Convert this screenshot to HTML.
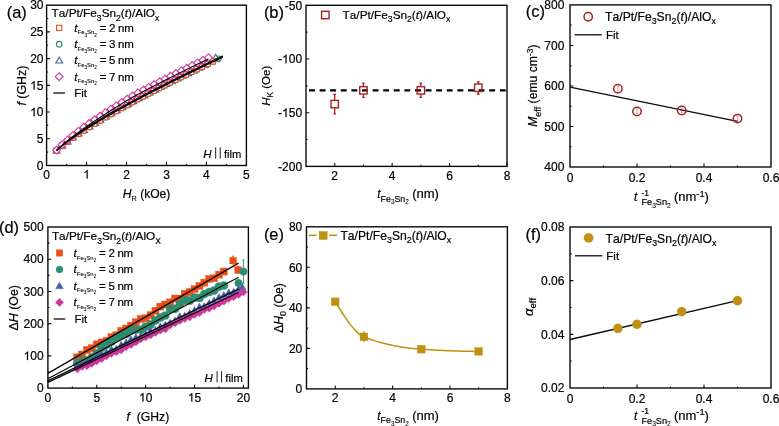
<!DOCTYPE html>
<html><head><meta charset="utf-8"><style>
html,body{margin:0;padding:0;background:#fff;}
svg{display:block;font-family:"Liberation Sans", sans-serif;font-kerning:none;will-change:transform;}
text{stroke-width:0.2px;}
</style></head><body>
<svg width="779" height="426" viewBox="0 0 779 426">
<rect width="779" height="426" fill="#fff"/>
<path d="M86.56 165.5v-3.4M126.52 165.5v-3.4M166.48 165.5v-3.4M206.44 165.5v-3.4M66.58 165.5v-1.6M106.54 165.5v-1.6M146.5 165.5v-1.6M186.46 165.5v-1.6M226.42 165.5v-1.6M46.6 138.78h3.4M46.6 112.07h3.4M46.6 85.35h3.4M46.6 58.63h3.4M46.6 31.92h3.4M46.6 152.14h1.6M46.6 125.42h1.6M46.6 98.71h1.6M46.6 71.99h1.6M46.6 45.27h1.6M46.6 18.56h1.6" stroke="#0a0a0a" stroke-width="1.1" fill="none"/>
<rect x="46.6" y="5.2" width="199.8" height="160.3" fill="none" stroke="#0a0a0a" stroke-width="1.4"/>
<text x="46.6" y="178.6" font-size="12" text-anchor="middle" fill="#000" stroke="#000">0</text>
<text x="86.56" y="178.6" font-size="12" text-anchor="middle" fill="#000" stroke="#000"> </text>
<path transform="translate(83.22 178.6) scale(0.005859 -0.005859)" d="M763 0L583 0L583 1147Q518 1085 412 1023Q306 961 222 930L222 1104Q373 1175 486 1276Q599 1377 646 1472L763 1472Z" fill="#000" stroke="#000" stroke-width="34.13"/>
<text x="126.52" y="178.6" font-size="12" text-anchor="middle" fill="#000" stroke="#000">2</text>
<text x="166.48" y="178.6" font-size="12" text-anchor="middle" fill="#000" stroke="#000">3</text>
<text x="206.44" y="178.6" font-size="12" text-anchor="middle" fill="#000" stroke="#000">4</text>
<text x="246.4" y="178.6" font-size="12" text-anchor="middle" fill="#000" stroke="#000">5</text>
<text x="43.5" y="169.7" font-size="12" text-anchor="end" fill="#000" stroke="#000">0</text>
<text x="43.5" y="142.98" font-size="12" text-anchor="end" fill="#000" stroke="#000">5</text>
<text x="43.5" y="116.27" font-size="12" text-anchor="end" fill="#000" stroke="#000"> 0</text>
<path transform="translate(30.16 116.27) scale(0.005859 -0.005859)" d="M763 0L583 0L583 1147Q518 1085 412 1023Q306 961 222 930L222 1104Q373 1175 486 1276Q599 1377 646 1472L763 1472Z" fill="#000" stroke="#000" stroke-width="34.13"/>
<text x="43.5" y="89.55" font-size="12" text-anchor="end" fill="#000" stroke="#000"> 5</text>
<path transform="translate(30.16 89.55) scale(0.005859 -0.005859)" d="M763 0L583 0L583 1147Q518 1085 412 1023Q306 961 222 930L222 1104Q373 1175 486 1276Q599 1377 646 1472L763 1472Z" fill="#000" stroke="#000" stroke-width="34.13"/>
<text x="43.5" y="62.83" font-size="12" text-anchor="end" fill="#000" stroke="#000">20</text>
<text x="43.5" y="36.12" font-size="12" text-anchor="end" fill="#000" stroke="#000">25</text>
<text x="43.5" y="9.4" font-size="12" text-anchor="end" fill="#000" stroke="#000">30</text>
<text x="6.7" y="17.6" font-size="16.4" text-anchor="start" fill="#000" stroke="#000">(a)</text>
<text x="122.8" y="197.8" font-size="12.1" text-anchor="start" fill="#000" stroke="#000"><tspan font-style="italic">H</tspan><tspan dy="3.15" font-size="7.26" stroke-width="0.1">R</tspan><tspan dy="-3.15"> (kOe)</tspan></text>
<text x="25.9" y="85.6" font-size="12.4" text-anchor="middle" fill="#000" stroke="#000" transform="rotate(-90 25.9 85.6)"><tspan font-style="italic">f</tspan><tspan> (GHz)</tspan></text>
<text x="51.6" y="17.4" font-size="11.8" text-anchor="start" fill="#000" stroke="#000"><tspan>Ta/Pt/Fe</tspan><tspan dy="3.19" font-size="8.61" stroke-width="0.17">3</tspan><tspan dy="-3.19">Sn</tspan><tspan dy="3.19" font-size="8.61" stroke-width="0.17">2</tspan><tspan dy="-3.19">(</tspan><tspan font-style="italic">t</tspan><tspan>)/AlO</tspan><tspan dy="3.19" font-size="8.61" stroke-width="0.17">x</tspan></text>
<rect x="56.6" y="25.3" width="5.2" height="5.2" fill="none" stroke="#ec4e16" stroke-width="1.1"/>
<text x="74.3" y="31.8" font-size="11.5" text-anchor="start" fill="#000" stroke="#000"><tspan font-style="italic">t</tspan><tspan dy="2.65" font-size="5.98" stroke-width="0.08">Fe</tspan><tspan dy="2.07" font-size="4.6" stroke-width="0.08">3</tspan><tspan dy="-2.07" font-size="5.98" stroke-width="0.08">Sn</tspan><tspan dy="2.07" font-size="4.6" stroke-width="0.08">2</tspan><tspan dy="-4.71" letter-spacing="-0.3"> = 2 nm</tspan></text>
<circle cx="59.2" cy="44.2" r="2.8" fill="none" stroke="#2f8d6f" stroke-width="1.1"/>
<text x="74.3" y="48.1" font-size="11.5" text-anchor="start" fill="#000" stroke="#000"><tspan font-style="italic">t</tspan><tspan dy="2.65" font-size="5.98" stroke-width="0.08">Fe</tspan><tspan dy="2.07" font-size="4.6" stroke-width="0.08">3</tspan><tspan dy="-2.07" font-size="5.98" stroke-width="0.08">Sn</tspan><tspan dy="2.07" font-size="4.6" stroke-width="0.08">2</tspan><tspan dy="-4.71" letter-spacing="-0.3"> = 3 nm</tspan></text>
<path d="M59.2 57.14L62.61 63.03L55.79 63.03Z" fill="none" stroke="#4460aa" stroke-width="1.1"/>
<text x="74.3" y="64.3" font-size="11.5" text-anchor="start" fill="#000" stroke="#000"><tspan font-style="italic">t</tspan><tspan dy="2.65" font-size="5.98" stroke-width="0.08">Fe</tspan><tspan dy="2.07" font-size="4.6" stroke-width="0.08">3</tspan><tspan dy="-2.07" font-size="5.98" stroke-width="0.08">Sn</tspan><tspan dy="2.07" font-size="4.6" stroke-width="0.08">2</tspan><tspan dy="-4.71" letter-spacing="-0.3"> = 5 nm</tspan></text>
<path d="M59.2 72.8L63.1 76.7L59.2 80.6L55.3 76.7Z" fill="none" stroke="#d1339d" stroke-width="1.1"/>
<text x="74.3" y="80.6" font-size="11.5" text-anchor="start" fill="#000" stroke="#000"><tspan font-style="italic">t</tspan><tspan dy="2.65" font-size="5.98" stroke-width="0.08">Fe</tspan><tspan dy="2.07" font-size="4.6" stroke-width="0.08">3</tspan><tspan dy="-2.07" font-size="5.98" stroke-width="0.08">Sn</tspan><tspan dy="2.07" font-size="4.6" stroke-width="0.08">2</tspan><tspan dy="-4.71" letter-spacing="-0.3"> = 7 nm</tspan></text>
<path d="M53.4 93 L65 93" stroke="#0a0a0a" stroke-width="1.3" fill="none"/>
<text x="74.2" y="97.1" font-size="11.5" text-anchor="start" fill="#000" stroke="#000">Fit</text>
<text x="203.2" y="158" font-size="11.5" text-anchor="start" fill="#000" stroke="#000" font-style="italic">H</text>
<path d="M215.7 147.4v11.2M220.2 147.4v11.2" stroke="#000" stroke-width="0.9"/>
<text x="223.9" y="158" font-size="11.2" text-anchor="start" fill="#000" stroke="#000">film</text>
<circle cx="56.59" cy="150.52" r="2.8" fill="#fff" stroke="#2f8d6f" stroke-width="1.1"/>
<circle cx="61.98" cy="145.8" r="2.8" fill="#fff" stroke="#2f8d6f" stroke-width="1.1"/>
<circle cx="67.38" cy="141.57" r="2.8" fill="#fff" stroke="#2f8d6f" stroke-width="1.1"/>
<circle cx="72.77" cy="137.64" r="2.8" fill="#fff" stroke="#2f8d6f" stroke-width="1.1"/>
<circle cx="78.17" cy="133.94" r="2.8" fill="#fff" stroke="#2f8d6f" stroke-width="1.1"/>
<circle cx="83.56" cy="130.39" r="2.8" fill="#fff" stroke="#2f8d6f" stroke-width="1.1"/>
<circle cx="88.96" cy="126.96" r="2.8" fill="#fff" stroke="#2f8d6f" stroke-width="1.1"/>
<circle cx="94.35" cy="123.62" r="2.8" fill="#fff" stroke="#2f8d6f" stroke-width="1.1"/>
<circle cx="99.75" cy="120.37" r="2.8" fill="#fff" stroke="#2f8d6f" stroke-width="1.1"/>
<circle cx="105.14" cy="117.19" r="2.8" fill="#fff" stroke="#2f8d6f" stroke-width="1.1"/>
<circle cx="110.54" cy="114.08" r="2.8" fill="#fff" stroke="#2f8d6f" stroke-width="1.1"/>
<circle cx="115.93" cy="111.02" r="2.8" fill="#fff" stroke="#2f8d6f" stroke-width="1.1"/>
<circle cx="121.33" cy="108.01" r="2.8" fill="#fff" stroke="#2f8d6f" stroke-width="1.1"/>
<circle cx="126.72" cy="105.05" r="2.8" fill="#fff" stroke="#2f8d6f" stroke-width="1.1"/>
<circle cx="132.11" cy="102.12" r="2.8" fill="#fff" stroke="#2f8d6f" stroke-width="1.1"/>
<circle cx="137.51" cy="99.23" r="2.8" fill="#fff" stroke="#2f8d6f" stroke-width="1.1"/>
<circle cx="142.9" cy="96.38" r="2.8" fill="#fff" stroke="#2f8d6f" stroke-width="1.1"/>
<circle cx="148.3" cy="93.55" r="2.8" fill="#fff" stroke="#2f8d6f" stroke-width="1.1"/>
<circle cx="153.69" cy="90.76" r="2.8" fill="#fff" stroke="#2f8d6f" stroke-width="1.1"/>
<circle cx="159.09" cy="87.99" r="2.8" fill="#fff" stroke="#2f8d6f" stroke-width="1.1"/>
<circle cx="164.48" cy="85.24" r="2.8" fill="#fff" stroke="#2f8d6f" stroke-width="1.1"/>
<circle cx="169.88" cy="82.51" r="2.8" fill="#fff" stroke="#2f8d6f" stroke-width="1.1"/>
<circle cx="175.27" cy="79.81" r="2.8" fill="#fff" stroke="#2f8d6f" stroke-width="1.1"/>
<circle cx="180.67" cy="77.13" r="2.8" fill="#fff" stroke="#2f8d6f" stroke-width="1.1"/>
<circle cx="186.06" cy="74.46" r="2.8" fill="#fff" stroke="#2f8d6f" stroke-width="1.1"/>
<circle cx="191.45" cy="71.81" r="2.8" fill="#fff" stroke="#2f8d6f" stroke-width="1.1"/>
<circle cx="196.85" cy="69.18" r="2.8" fill="#fff" stroke="#2f8d6f" stroke-width="1.1"/>
<circle cx="202.24" cy="66.56" r="2.8" fill="#fff" stroke="#2f8d6f" stroke-width="1.1"/>
<circle cx="207.64" cy="63.96" r="2.8" fill="#fff" stroke="#2f8d6f" stroke-width="1.1"/>
<circle cx="213.03" cy="61.37" r="2.8" fill="#fff" stroke="#2f8d6f" stroke-width="1.1"/>
<circle cx="218.43" cy="58.8" r="2.8" fill="#fff" stroke="#2f8d6f" stroke-width="1.1"/>
<path d="M56.59 147.16L60 153.05L53.18 153.05Z" fill="#fff" stroke="#4460aa" stroke-width="1.1"/>
<path d="M62.07 142.3L65.48 148.19L58.66 148.19Z" fill="#fff" stroke="#4460aa" stroke-width="1.1"/>
<path d="M67.56 137.95L70.97 143.84L64.15 143.84Z" fill="#fff" stroke="#4460aa" stroke-width="1.1"/>
<path d="M73.04 133.92L76.45 139.81L69.63 139.81Z" fill="#fff" stroke="#4460aa" stroke-width="1.1"/>
<path d="M78.53 130.1L81.94 135.99L75.12 135.99Z" fill="#fff" stroke="#4460aa" stroke-width="1.1"/>
<path d="M84.01 126.45L87.42 132.34L80.6 132.34Z" fill="#fff" stroke="#4460aa" stroke-width="1.1"/>
<path d="M89.49 122.94L92.9 128.83L86.08 128.83Z" fill="#fff" stroke="#4460aa" stroke-width="1.1"/>
<path d="M94.98 119.56L98.39 125.45L91.57 125.45Z" fill="#fff" stroke="#4460aa" stroke-width="1.1"/>
<path d="M100.46 116.26L103.87 122.15L97.05 122.15Z" fill="#fff" stroke="#4460aa" stroke-width="1.1"/>
<path d="M105.95 113.04L109.36 118.93L102.54 118.93Z" fill="#fff" stroke="#4460aa" stroke-width="1.1"/>
<path d="M111.43 109.88L114.84 115.77L108.02 115.77Z" fill="#fff" stroke="#4460aa" stroke-width="1.1"/>
<path d="M116.92 106.78L120.33 112.67L113.51 112.67Z" fill="#fff" stroke="#4460aa" stroke-width="1.1"/>
<path d="M122.4 103.73L125.81 109.62L118.99 109.62Z" fill="#fff" stroke="#4460aa" stroke-width="1.1"/>
<path d="M127.88 100.73L131.29 106.62L124.47 106.62Z" fill="#fff" stroke="#4460aa" stroke-width="1.1"/>
<path d="M133.37 97.77L136.78 103.66L129.96 103.66Z" fill="#fff" stroke="#4460aa" stroke-width="1.1"/>
<path d="M138.85 94.84L142.26 100.73L135.44 100.73Z" fill="#fff" stroke="#4460aa" stroke-width="1.1"/>
<path d="M144.34 91.94L147.75 97.83L140.93 97.83Z" fill="#fff" stroke="#4460aa" stroke-width="1.1"/>
<path d="M149.82 89.08L153.23 94.97L146.41 94.97Z" fill="#fff" stroke="#4460aa" stroke-width="1.1"/>
<path d="M155.3 86.24L158.71 92.13L151.89 92.13Z" fill="#fff" stroke="#4460aa" stroke-width="1.1"/>
<path d="M160.79 83.43L164.2 89.32L157.38 89.32Z" fill="#fff" stroke="#4460aa" stroke-width="1.1"/>
<path d="M166.27 80.65L169.68 86.54L162.86 86.54Z" fill="#fff" stroke="#4460aa" stroke-width="1.1"/>
<path d="M171.76 77.89L175.17 83.78L168.35 83.78Z" fill="#fff" stroke="#4460aa" stroke-width="1.1"/>
<path d="M177.24 75.15L180.65 81.04L173.83 81.04Z" fill="#fff" stroke="#4460aa" stroke-width="1.1"/>
<path d="M182.73 72.42L186.14 78.31L179.32 78.31Z" fill="#fff" stroke="#4460aa" stroke-width="1.1"/>
<path d="M188.21 69.72L191.62 75.61L184.8 75.61Z" fill="#fff" stroke="#4460aa" stroke-width="1.1"/>
<path d="M193.69 67.04L197.1 72.93L190.28 72.93Z" fill="#fff" stroke="#4460aa" stroke-width="1.1"/>
<path d="M199.18 64.37L202.59 70.26L195.77 70.26Z" fill="#fff" stroke="#4460aa" stroke-width="1.1"/>
<path d="M204.66 61.35L208.07 67.24L201.25 67.24Z" fill="#fff" stroke="#4460aa" stroke-width="1.1"/>
<path d="M210.15 57.83L213.56 63.72L206.74 63.72Z" fill="#fff" stroke="#4460aa" stroke-width="1.1"/>
<path d="M215.63 54.31L219.04 60.2L212.22 60.2Z" fill="#fff" stroke="#4460aa" stroke-width="1.1"/>
<rect x="53.99" y="147.91" width="5.2" height="5.2" fill="#fff" stroke="#ec4e16" stroke-width="1.1"/>
<rect x="59.38" y="143.18" width="5.2" height="5.2" fill="#fff" stroke="#ec4e16" stroke-width="1.1"/>
<rect x="64.77" y="138.95" width="5.2" height="5.2" fill="#fff" stroke="#ec4e16" stroke-width="1.1"/>
<rect x="70.15" y="135.02" width="5.2" height="5.2" fill="#fff" stroke="#ec4e16" stroke-width="1.1"/>
<rect x="75.54" y="131.31" width="5.2" height="5.2" fill="#fff" stroke="#ec4e16" stroke-width="1.1"/>
<rect x="80.93" y="127.77" width="5.2" height="5.2" fill="#fff" stroke="#ec4e16" stroke-width="1.1"/>
<rect x="86.32" y="124.34" width="5.2" height="5.2" fill="#fff" stroke="#ec4e16" stroke-width="1.1"/>
<rect x="91.7" y="121" width="5.2" height="5.2" fill="#fff" stroke="#ec4e16" stroke-width="1.1"/>
<rect x="97.09" y="117.75" width="5.2" height="5.2" fill="#fff" stroke="#ec4e16" stroke-width="1.1"/>
<rect x="102.48" y="114.58" width="5.2" height="5.2" fill="#fff" stroke="#ec4e16" stroke-width="1.1"/>
<rect x="107.87" y="111.46" width="5.2" height="5.2" fill="#fff" stroke="#ec4e16" stroke-width="1.1"/>
<rect x="113.25" y="108.41" width="5.2" height="5.2" fill="#fff" stroke="#ec4e16" stroke-width="1.1"/>
<rect x="118.64" y="105.4" width="5.2" height="5.2" fill="#fff" stroke="#ec4e16" stroke-width="1.1"/>
<rect x="124.03" y="102.44" width="5.2" height="5.2" fill="#fff" stroke="#ec4e16" stroke-width="1.1"/>
<rect x="129.42" y="99.52" width="5.2" height="5.2" fill="#fff" stroke="#ec4e16" stroke-width="1.1"/>
<rect x="134.81" y="96.64" width="5.2" height="5.2" fill="#fff" stroke="#ec4e16" stroke-width="1.1"/>
<rect x="140.19" y="93.78" width="5.2" height="5.2" fill="#fff" stroke="#ec4e16" stroke-width="1.1"/>
<rect x="145.58" y="90.96" width="5.2" height="5.2" fill="#fff" stroke="#ec4e16" stroke-width="1.1"/>
<rect x="150.97" y="88.17" width="5.2" height="5.2" fill="#fff" stroke="#ec4e16" stroke-width="1.1"/>
<rect x="156.36" y="85.4" width="5.2" height="5.2" fill="#fff" stroke="#ec4e16" stroke-width="1.1"/>
<rect x="161.74" y="82.66" width="5.2" height="5.2" fill="#fff" stroke="#ec4e16" stroke-width="1.1"/>
<rect x="167.13" y="79.93" width="5.2" height="5.2" fill="#fff" stroke="#ec4e16" stroke-width="1.1"/>
<rect x="172.52" y="77.23" width="5.2" height="5.2" fill="#fff" stroke="#ec4e16" stroke-width="1.1"/>
<rect x="177.91" y="74.55" width="5.2" height="5.2" fill="#fff" stroke="#ec4e16" stroke-width="1.1"/>
<rect x="183.3" y="71.89" width="5.2" height="5.2" fill="#fff" stroke="#ec4e16" stroke-width="1.1"/>
<rect x="188.68" y="69.24" width="5.2" height="5.2" fill="#fff" stroke="#ec4e16" stroke-width="1.1"/>
<rect x="194.07" y="66.61" width="5.2" height="5.2" fill="#fff" stroke="#ec4e16" stroke-width="1.1"/>
<rect x="199.46" y="64" width="5.2" height="5.2" fill="#fff" stroke="#ec4e16" stroke-width="1.1"/>
<rect x="204.85" y="61.4" width="5.2" height="5.2" fill="#fff" stroke="#ec4e16" stroke-width="1.1"/>
<rect x="210.23" y="58.82" width="5.2" height="5.2" fill="#fff" stroke="#ec4e16" stroke-width="1.1"/>
<path d="M56.59 146.24L60.49 150.14L56.59 154.04L52.69 150.14Z" fill="#fff" stroke="#d1339d" stroke-width="1.1"/>
<path d="M62.01 140.96L65.91 144.86L62.01 148.76L58.11 144.86Z" fill="#fff" stroke="#d1339d" stroke-width="1.1"/>
<path d="M67.44 136.18L71.34 140.08L67.44 143.98L63.54 140.08Z" fill="#fff" stroke="#d1339d" stroke-width="1.1"/>
<path d="M72.86 131.71L76.76 135.61L72.86 139.51L68.96 135.61Z" fill="#fff" stroke="#d1339d" stroke-width="1.1"/>
<path d="M78.28 127.46L82.18 131.36L78.28 135.26L74.38 131.36Z" fill="#fff" stroke="#d1339d" stroke-width="1.1"/>
<path d="M83.71 123.38L87.61 127.28L83.71 131.18L79.81 127.28Z" fill="#fff" stroke="#d1339d" stroke-width="1.1"/>
<path d="M89.13 119.51L93.03 123.41L89.13 127.31L85.23 123.41Z" fill="#fff" stroke="#d1339d" stroke-width="1.1"/>
<path d="M94.55 115.84L98.45 119.74L94.55 123.64L90.65 119.74Z" fill="#fff" stroke="#d1339d" stroke-width="1.1"/>
<path d="M99.98 112.25L103.88 116.15L99.98 120.05L96.08 116.15Z" fill="#fff" stroke="#d1339d" stroke-width="1.1"/>
<path d="M105.4 108.74L109.3 112.64L105.4 116.54L101.5 112.64Z" fill="#fff" stroke="#d1339d" stroke-width="1.1"/>
<path d="M110.82 105.3L114.72 109.2L110.82 113.1L106.92 109.2Z" fill="#fff" stroke="#d1339d" stroke-width="1.1"/>
<path d="M116.24 101.91L120.14 105.81L116.24 109.71L112.34 105.81Z" fill="#fff" stroke="#d1339d" stroke-width="1.1"/>
<path d="M121.67 98.57L125.57 102.47L121.67 106.37L117.77 102.47Z" fill="#fff" stroke="#d1339d" stroke-width="1.1"/>
<path d="M127.09 95.28L130.99 99.18L127.09 103.08L123.19 99.18Z" fill="#fff" stroke="#d1339d" stroke-width="1.1"/>
<path d="M132.51 92.02L136.41 95.92L132.51 99.82L128.61 95.92Z" fill="#fff" stroke="#d1339d" stroke-width="1.1"/>
<path d="M137.94 89.12L141.84 93.02L137.94 96.92L134.04 93.02Z" fill="#fff" stroke="#d1339d" stroke-width="1.1"/>
<path d="M143.36 86.25L147.26 90.15L143.36 94.05L139.46 90.15Z" fill="#fff" stroke="#d1339d" stroke-width="1.1"/>
<path d="M148.78 83.42L152.68 87.32L148.78 91.22L144.88 87.32Z" fill="#fff" stroke="#d1339d" stroke-width="1.1"/>
<path d="M154.21 80.61L158.11 84.51L154.21 88.41L150.31 84.51Z" fill="#fff" stroke="#d1339d" stroke-width="1.1"/>
<path d="M159.63 77.82L163.53 81.72L159.63 85.62L155.73 81.72Z" fill="#fff" stroke="#d1339d" stroke-width="1.1"/>
<path d="M165.05 75.07L168.95 78.97L165.05 82.87L161.15 78.97Z" fill="#fff" stroke="#d1339d" stroke-width="1.1"/>
<path d="M170.48 72.33L174.38 76.23L170.48 80.13L166.58 76.23Z" fill="#fff" stroke="#d1339d" stroke-width="1.1"/>
<path d="M175.9 69.61L179.8 73.51L175.9 77.41L172 73.51Z" fill="#fff" stroke="#d1339d" stroke-width="1.1"/>
<path d="M181.32 66.92L185.22 70.82L181.32 74.72L177.42 70.82Z" fill="#fff" stroke="#d1339d" stroke-width="1.1"/>
<path d="M186.75 64.24L190.65 68.14L186.75 72.04L182.85 68.14Z" fill="#fff" stroke="#d1339d" stroke-width="1.1"/>
<path d="M192.17 61.58L196.07 65.48L192.17 69.38L188.27 65.48Z" fill="#fff" stroke="#d1339d" stroke-width="1.1"/>
<path d="M197.59 58.94L201.49 62.84L197.59 66.74L193.69 62.84Z" fill="#fff" stroke="#d1339d" stroke-width="1.1"/>
<path d="M203.01 56.31L206.91 60.21L203.01 64.11L199.11 60.21Z" fill="#fff" stroke="#d1339d" stroke-width="1.1"/>
<path d="M208.44 53.69L212.34 57.59L208.44 61.49L204.54 57.59Z" fill="#fff" stroke="#d1339d" stroke-width="1.1"/>
<path d="M56.59 150.63 L59.36 148.15 L62.13 145.84 L64.9 143.66 L67.67 141.57 L70.44 139.56 L73.21 137.62 L75.98 135.73 L78.75 133.89 L81.53 132.09 L84.3 130.32 L87.07 128.59 L89.84 126.84 L92.61 125.12 L95.38 123.43 L98.15 121.75 L100.92 120.1 L103.69 118.47 L106.46 116.85 L109.23 115.25 L112 113.67 L114.77 112.1 L117.54 110.54 L120.31 109 L123.08 107.47 L125.85 105.95 L128.62 104.44 L131.4 102.94 L134.17 101.45 L136.94 99.97 L139.71 98.49 L142.48 97.03 L145.25 95.58 L148.02 94.13 L150.79 92.69 L153.56 91.25 L156.33 89.83 L159.1 88.41 L161.87 86.99 L164.64 85.59 L167.41 84.18 L170.18 82.79 L172.95 81.4 L175.72 80.01 L178.49 78.63 L181.27 77.26 L184.04 75.89 L186.81 74.52 L189.58 73.16 L192.35 71.8 L195.12 70.45 L197.89 69.1 L200.66 67.76 L203.43 66.42 L206.2 65.08 L208.97 63.75 L211.74 62.42 L214.51 61.1 L217.28 59.77 L220.05 58.46 L222.82 57.14" stroke="#0a0a0a" stroke-width="1.2" fill="none"/>
<path d="M56.59 150.47 L59.36 147.95 L62.13 145.59 L64.9 143.36 L67.67 141.23 L70.44 139.18 L73.21 137.19 L75.98 135.26 L78.75 133.37 L81.53 131.53 L84.3 129.72 L87.07 127.95 L89.84 126.2 L92.61 124.48 L95.38 122.79 L98.15 121.11 L100.92 119.46 L103.69 117.83 L106.46 116.21 L109.23 114.61 L112 113.03 L114.77 111.46 L117.54 109.9 L120.31 108.36 L123.08 106.83 L125.85 105.31 L128.62 103.8 L131.4 102.3 L134.17 100.81 L136.94 99.33 L139.71 97.85 L142.48 96.39 L145.25 94.93 L148.02 93.49 L150.79 92.05 L153.56 90.61 L156.33 89.19 L159.1 87.77 L161.87 86.35 L164.64 84.94 L167.41 83.54 L170.18 82.15 L172.95 80.76 L175.72 79.37 L178.49 77.99 L181.27 76.62 L184.04 75.25 L186.81 73.88 L189.58 72.52 L192.35 71.16 L195.12 69.81 L197.89 68.46 L200.66 67.12 L203.43 65.78 L206.2 64.44 L208.97 63.11 L211.74 61.78 L214.51 60.45 L217.28 59.13 L220.05 57.81 L222.82 56.5" stroke="#0a0a0a" stroke-width="1.2" fill="none"/>
<path d="M56.59 150.31 L59.36 147.74 L62.13 145.34 L64.9 143.07 L67.67 140.89 L70.44 138.8 L73.21 136.76 L75.98 134.79 L78.75 132.86 L81.53 130.97 L84.3 129.12 L87.07 127.3 L89.84 125.56 L92.61 123.84 L95.38 122.14 L98.15 120.47 L100.92 118.82 L103.69 117.19 L106.46 115.57 L109.23 113.97 L112 112.39 L114.77 110.82 L117.54 109.26 L120.31 107.72 L123.08 106.19 L125.85 104.66 L128.62 103.15 L131.4 101.66 L134.17 100.17 L136.94 98.68 L139.71 97.21 L142.48 95.75 L145.25 94.29 L148.02 92.84 L150.79 91.4 L153.56 89.97 L156.33 88.54 L159.1 87.12 L161.87 85.71 L164.64 84.3 L167.41 82.9 L170.18 81.51 L172.95 80.11 L175.72 78.73 L178.49 77.35 L181.27 75.97 L184.04 74.6 L186.81 73.24 L189.58 71.88 L192.35 70.52 L195.12 69.17 L197.89 67.82 L200.66 66.48 L203.43 65.14 L206.2 63.8 L208.97 62.47 L211.74 61.14 L214.51 59.81 L217.28 58.49 L220.05 57.17 L222.82 55.86" stroke="#0a0a0a" stroke-width="1.2" fill="none"/>
<path d="M56.59 150.47 L59.12 148.01 L61.65 145.7 L64.18 143.49 L66.71 141.37 L69.24 139.32 L71.77 137.33 L74.31 135.39 L76.84 133.49 L79.37 131.63 L81.9 129.8 L84.43 128.01 L86.96 126.24 L89.49 124.49 L92.02 122.77 L94.55 121.07 L97.08 119.39 L99.61 117.72 L102.14 116.08 L104.68 114.44 L107.21 112.82 L109.74 111.22 L112.27 109.62 L114.8 108.04 L117.33 106.47 L119.86 104.91 L122.39 103.36 L124.92 101.83 L127.45 100.29 L129.98 98.77 L132.51 97.26 L135.04 95.9 L137.58 94.55 L140.11 93.21 L142.64 91.87 L145.17 90.54 L147.7 89.22 L150.23 87.9 L152.76 86.59 L155.29 85.28 L157.82 83.99 L160.35 82.69 L162.88 81.4 L165.41 80.12 L167.95 78.84 L170.48 77.56 L173.01 76.29 L175.54 75.03 L178.07 73.77 L180.6 72.51 L183.13 71.26 L185.66 70.01 L188.19 68.76 L190.72 67.52 L193.25 66.28 L195.78 65.05 L198.31 63.82 L200.85 62.59 L203.38 61.37 L205.91 60.15 L208.44 58.93" stroke="#0a0a0a" stroke-width="1.2" fill="none"/>
<path d="M334.71 166.4v-3.4M392.14 166.4v-3.4M449.57 166.4v-3.4M507 166.4v-3.4M363.43 166.4v-1.6M420.86 166.4v-1.6M478.29 166.4v-1.6M306 59h3.4M306 112.7h3.4M306 32.15h1.6M306 85.85h1.6M306 139.55h1.6" stroke="#0a0a0a" stroke-width="1.1" fill="none"/>
<rect x="306" y="5.3" width="201" height="161.1" fill="none" stroke="#0a0a0a" stroke-width="1.4"/>
<text x="334.71" y="179.6" font-size="12" text-anchor="middle" fill="#000" stroke="#000">2</text>
<text x="392.14" y="179.6" font-size="12" text-anchor="middle" fill="#000" stroke="#000">4</text>
<text x="449.57" y="179.6" font-size="12" text-anchor="middle" fill="#000" stroke="#000">6</text>
<text x="507" y="179.6" font-size="12" text-anchor="middle" fill="#000" stroke="#000">8</text>
<text x="302.1" y="9.5" font-size="12" text-anchor="end" fill="#000" stroke="#000">-50</text>
<text x="302.1" y="63.2" font-size="12" text-anchor="end" fill="#000" stroke="#000">- 00</text>
<path transform="translate(282.08 63.2) scale(0.005859 -0.005859)" d="M763 0L583 0L583 1147Q518 1085 412 1023Q306 961 222 930L222 1104Q373 1175 486 1276Q599 1377 646 1472L763 1472Z" fill="#000" stroke="#000" stroke-width="34.13"/>
<text x="302.1" y="116.9" font-size="12" text-anchor="end" fill="#000" stroke="#000">- 50</text>
<path transform="translate(282.08 116.9) scale(0.005859 -0.005859)" d="M763 0L583 0L583 1147Q518 1085 412 1023Q306 961 222 930L222 1104Q373 1175 486 1276Q599 1377 646 1472L763 1472Z" fill="#000" stroke="#000" stroke-width="34.13"/>
<text x="302.1" y="170.6" font-size="12" text-anchor="end" fill="#000" stroke="#000">-200</text>
<text x="263.9" y="17.6" font-size="16.4" text-anchor="start" fill="#000" stroke="#000">(b)</text>
<text x="377.2" y="198.3" font-size="12" text-anchor="start" fill="#000" stroke="#000" font-style="italic">t</text>
<text x="380.6" y="201.8" font-size="8.8" text-anchor="start" fill="#000" stroke="#000"><tspan stroke-width="0.18">Fe</tspan><tspan dy="2.64" font-size="6.34" stroke-width="0.08">3</tspan><tspan dy="-2.64" stroke-width="0.18">Sn</tspan><tspan dy="2.64" font-size="6.34" stroke-width="0.08">2</tspan></text>
<text x="412.2" y="198.3" font-size="13" text-anchor="start" fill="#000" stroke="#000">(nm)</text>
<text x="269.7" y="85.8" font-size="11.5" text-anchor="middle" fill="#000" stroke="#000" transform="rotate(-90 269.7 85.8)"><tspan font-style="italic">H</tspan><tspan dy="3.11" font-size="8.39" stroke-width="0.16">K</tspan><tspan dy="-3.11"> (Oe)</tspan></text>
<path d="M309.0 90.36H507" stroke="#000" stroke-width="2.4" stroke-dasharray="5.9 4.7"/>
<path d="M334.71 94.44V100.31 M334.71 107.91V113.88 M333.41 94.44h2.6 M333.41 113.88h2.6" stroke="#a8201f" stroke-width="1.3"/>
<rect x="331.01" y="100.41" width="7.4" height="7.4" fill="none" stroke="#a8201f" stroke-width="1.4"/>
<path d="M363.43 83.06V86.56 M363.43 94.16V97.45 M362.13 83.06h2.6 M362.13 97.45h2.6" stroke="#a8201f" stroke-width="1.3"/>
<rect x="359.73" y="86.66" width="7.4" height="7.4" fill="none" stroke="#a8201f" stroke-width="1.4"/>
<path d="M420.86 83.06V86.56 M420.86 94.16V97.45 M419.56 83.06h2.6 M419.56 97.45h2.6" stroke="#a8201f" stroke-width="1.3"/>
<rect x="417.16" y="86.66" width="7.4" height="7.4" fill="none" stroke="#a8201f" stroke-width="1.4"/>
<path d="M478.29 81.98V83.98 M478.29 91.58V94.01 M476.99 81.98h2.6 M476.99 94.01h2.6" stroke="#a8201f" stroke-width="1.3"/>
<rect x="474.59" y="84.08" width="7.4" height="7.4" fill="none" stroke="#a8201f" stroke-width="1.4"/>
<rect x="321.6" y="11.3" width="7.4" height="7.4" fill="none" stroke="#a8201f" stroke-width="1.4"/>
<text x="342.6" y="19.3" font-size="11.8" text-anchor="start" fill="#000" stroke="#000"><tspan>Ta/Pt/Fe</tspan><tspan dy="3.19" font-size="8.61" stroke-width="0.17">3</tspan><tspan dy="-3.19">Sn</tspan><tspan dy="3.19" font-size="8.61" stroke-width="0.17">2</tspan><tspan dy="-3.19">(</tspan><tspan font-style="italic">t</tspan><tspan>)/AlO</tspan><tspan dy="3.19" font-size="8.61" stroke-width="0.17">x</tspan></text>
<path d="M637 167v-3.4M704 167v-3.4M603.5 167v-1.6M670.5 167v-1.6M737.5 167v-1.6M570 126.47h3.4M570 85.95h3.4M570 45.43h3.4M570 146.74h1.6M570 106.21h1.6M570 65.69h1.6M570 25.16h1.6" stroke="#0a0a0a" stroke-width="1.1" fill="none"/>
<rect x="570" y="4.9" width="201" height="162.1" fill="none" stroke="#0a0a0a" stroke-width="1.4"/>
<text x="570" y="181.5" font-size="12" text-anchor="middle" fill="#000" stroke="#000">0</text>
<text x="637" y="181.5" font-size="12" text-anchor="middle" fill="#000" stroke="#000">0.2</text>
<text x="704" y="181.5" font-size="12" text-anchor="middle" fill="#000" stroke="#000">0.4</text>
<text x="771" y="181.5" font-size="12" text-anchor="middle" fill="#000" stroke="#000">0.6</text>
<text x="564.4" y="171.2" font-size="12" text-anchor="end" fill="#000" stroke="#000">400</text>
<text x="564.4" y="130.67" font-size="12" text-anchor="end" fill="#000" stroke="#000">500</text>
<text x="564.4" y="90.15" font-size="12" text-anchor="end" fill="#000" stroke="#000">600</text>
<text x="564.4" y="49.63" font-size="12" text-anchor="end" fill="#000" stroke="#000">700</text>
<text x="564.4" y="9.1" font-size="12" text-anchor="end" fill="#000" stroke="#000">800</text>
<text x="525.8" y="17.3" font-size="16.4" text-anchor="start" fill="#000" stroke="#000">(c)</text>
<text x="537.3" y="85.6" font-size="12.2" text-anchor="middle" fill="#000" stroke="#000" transform="rotate(-90 537.3 85.6)"><tspan font-style="italic">M</tspan><tspan dy="3.29" font-size="8.91" stroke-width="0.18">eff</tspan><tspan dy="-3.29"> (emu cm</tspan><tspan dy="-4.64" font-size="8.54" stroke-width="0.16">-3</tspan><tspan dy="4.64">)</tspan></text>
<path d="M570 87.17 L737.5 121.41" stroke="#0a0a0a" stroke-width="1.3" fill="none"/>
<path d="M617.86 86.49v4.6M616.86 86.49h2M616.86 91.09h2" stroke="#a8201f" stroke-width="0.7" opacity="0.55"/>
<circle cx="617.86" cy="88.79" r="4.2" fill="none" stroke="#a8201f" stroke-width="1.5"/>
<path d="M637 109.18v4.6M636 109.18h2M636 113.78h2" stroke="#a8201f" stroke-width="0.7" opacity="0.55"/>
<circle cx="637" cy="111.48" r="4.2" fill="none" stroke="#a8201f" stroke-width="1.5"/>
<path d="M681.67 108.17v4.6M680.67 108.17h2M680.67 112.77h2" stroke="#a8201f" stroke-width="0.7" opacity="0.55"/>
<circle cx="681.67" cy="110.47" r="4.2" fill="none" stroke="#a8201f" stroke-width="1.5"/>
<path d="M737.5 116.31v4.6M736.5 116.31h2M736.5 120.91h2" stroke="#a8201f" stroke-width="0.7" opacity="0.55"/>
<circle cx="737.5" cy="118.61" r="4.2" fill="none" stroke="#a8201f" stroke-width="1.5"/>
<circle cx="588.2" cy="16.7" r="4.2" fill="none" stroke="#a8201f" stroke-width="1.5"/>
<text x="605.1" y="21" font-size="12.15" text-anchor="start" fill="#000" stroke="#000"><tspan>Ta/Pt/Fe</tspan><tspan dy="3.28" font-size="8.87" stroke-width="0.18">3</tspan><tspan dy="-3.28">Sn</tspan><tspan dy="3.28" font-size="8.87" stroke-width="0.18">2</tspan><tspan dy="-3.28">(</tspan><tspan font-style="italic">t</tspan><tspan>)/AlO</tspan><tspan dy="3.28" font-size="8.87" stroke-width="0.18">x</tspan></text>
<path d="M574.6 34.8 L601.8 34.8" stroke="#0a0a0a" stroke-width="1.3" fill="none"/>
<text x="605.9" y="38.9" font-size="11.5" text-anchor="start" fill="#000" stroke="#000">Fit</text>
<path d="M96.78 388.1v-3.4M145.66 388.1v-3.4M194.54 388.1v-3.4M243.41 388.1v-3.4M72.34 388.1v-1.6M121.22 388.1v-1.6M170.1 388.1v-1.6M218.98 388.1v-1.6M47.9 355.88h3.4M47.9 323.66h3.4M47.9 291.44h3.4M47.9 259.22h3.4M47.9 371.99h1.6M47.9 339.77h1.6M47.9 307.55h1.6M47.9 275.33h1.6M47.9 243.11h1.6" stroke="#0a0a0a" stroke-width="1.1" fill="none"/>
<rect x="47.9" y="227" width="200.5" height="161.1" fill="none" stroke="#0a0a0a" stroke-width="1.4"/>
<text x="47.9" y="401.6" font-size="12" text-anchor="middle" fill="#000" stroke="#000">0</text>
<text x="96.78" y="401.6" font-size="12" text-anchor="middle" fill="#000" stroke="#000">5</text>
<text x="145.66" y="401.6" font-size="12" text-anchor="middle" fill="#000" stroke="#000"> 0</text>
<path transform="translate(138.99 401.6) scale(0.005859 -0.005859)" d="M763 0L583 0L583 1147Q518 1085 412 1023Q306 961 222 930L222 1104Q373 1175 486 1276Q599 1377 646 1472L763 1472Z" fill="#000" stroke="#000" stroke-width="34.13"/>
<text x="194.54" y="401.6" font-size="12" text-anchor="middle" fill="#000" stroke="#000"> 5</text>
<path transform="translate(187.86 401.6) scale(0.005859 -0.005859)" d="M763 0L583 0L583 1147Q518 1085 412 1023Q306 961 222 930L222 1104Q373 1175 486 1276Q599 1377 646 1472L763 1472Z" fill="#000" stroke="#000" stroke-width="34.13"/>
<text x="243.41" y="401.6" font-size="12" text-anchor="middle" fill="#000" stroke="#000">20</text>
<text x="43.6" y="392.3" font-size="12" text-anchor="end" fill="#000" stroke="#000">0</text>
<text x="43.6" y="360.08" font-size="12" text-anchor="end" fill="#000" stroke="#000"> 00</text>
<path transform="translate(23.58 360.08) scale(0.005859 -0.005859)" d="M763 0L583 0L583 1147Q518 1085 412 1023Q306 961 222 930L222 1104Q373 1175 486 1276Q599 1377 646 1472L763 1472Z" fill="#000" stroke="#000" stroke-width="34.13"/>
<text x="43.6" y="327.86" font-size="12" text-anchor="end" fill="#000" stroke="#000">200</text>
<text x="43.6" y="295.64" font-size="12" text-anchor="end" fill="#000" stroke="#000">300</text>
<text x="43.6" y="263.42" font-size="12" text-anchor="end" fill="#000" stroke="#000">400</text>
<text x="43.6" y="231.2" font-size="12" text-anchor="end" fill="#000" stroke="#000">500</text>
<text x="-1" y="232.9" font-size="16.4" text-anchor="start" fill="#000" stroke="#000">(d)</text>
<text x="126.6" y="420.5" font-size="12.2" text-anchor="start" fill="#000" stroke="#000"><tspan font-style="italic">f</tspan><tspan>  (GHz)</tspan></text>
<text x="18" y="307.8" font-size="12.4" text-anchor="middle" fill="#000" stroke="#000" transform="rotate(-90 18 307.8)"><tspan>Δ</tspan><tspan font-style="italic">H</tspan><tspan> (Oe)</tspan></text>
<text x="51.9" y="240.4" font-size="11.8" text-anchor="start" fill="#000" stroke="#000"><tspan>Ta/Pt/Fe</tspan><tspan dy="3.19" font-size="8.61" stroke-width="0.17">3</tspan><tspan dy="-3.19">Sn</tspan><tspan dy="3.19" font-size="8.61" stroke-width="0.17">2</tspan><tspan dy="-3.19">(</tspan><tspan font-style="italic">t</tspan><tspan>)/AlO</tspan><tspan dy="3.19" font-size="8.61" stroke-width="0.17">X</tspan></text>
<rect x="56.3" y="249.8" width="6.4" height="6.4" fill="#ec4e16" stroke="#ec4e16" stroke-width="0.3"/>
<text x="73.6" y="256.9" font-size="11.5" text-anchor="start" fill="#000" stroke="#000"><tspan font-style="italic">t</tspan><tspan dy="2.65" font-size="5.98" stroke-width="0.08">Fe</tspan><tspan dy="2.07" font-size="4.6" stroke-width="0.08">3</tspan><tspan dy="-2.07" font-size="5.98" stroke-width="0.08">Sn</tspan><tspan dy="2.07" font-size="4.6" stroke-width="0.08">2</tspan><tspan dy="-4.71" letter-spacing="-0.3"> = 2 nm</tspan></text>
<circle cx="59.5" cy="269.5" r="3.5" fill="#2f8d6f" stroke="#2f8d6f" stroke-width="0.3"/>
<text x="73.6" y="273.4" font-size="11.5" text-anchor="start" fill="#000" stroke="#000"><tspan font-style="italic">t</tspan><tspan dy="2.65" font-size="5.98" stroke-width="0.08">Fe</tspan><tspan dy="2.07" font-size="4.6" stroke-width="0.08">3</tspan><tspan dy="-2.07" font-size="5.98" stroke-width="0.08">Sn</tspan><tspan dy="2.07" font-size="4.6" stroke-width="0.08">2</tspan><tspan dy="-4.71" letter-spacing="-0.3"> = 3 nm</tspan></text>
<path d="M59.5 282.02L63.46 288.86L55.54 288.86Z" fill="#4460aa" stroke="#4460aa" stroke-width="0.3"/>
<text x="73.6" y="289.7" font-size="11.5" text-anchor="start" fill="#000" stroke="#000"><tspan font-style="italic">t</tspan><tspan dy="2.65" font-size="5.98" stroke-width="0.08">Fe</tspan><tspan dy="2.07" font-size="4.6" stroke-width="0.08">3</tspan><tspan dy="-2.07" font-size="5.98" stroke-width="0.08">Sn</tspan><tspan dy="2.07" font-size="4.6" stroke-width="0.08">2</tspan><tspan dy="-4.71" letter-spacing="-0.3"> = 5 nm</tspan></text>
<path d="M59.5 298.2L63.7 302.4L59.5 306.6L55.3 302.4Z" fill="#d1339d" stroke="#d1339d" stroke-width="0.3"/>
<text x="73.6" y="306.3" font-size="11.5" text-anchor="start" fill="#000" stroke="#000"><tspan font-style="italic">t</tspan><tspan dy="2.65" font-size="5.98" stroke-width="0.08">Fe</tspan><tspan dy="2.07" font-size="4.6" stroke-width="0.08">3</tspan><tspan dy="-2.07" font-size="5.98" stroke-width="0.08">Sn</tspan><tspan dy="2.07" font-size="4.6" stroke-width="0.08">2</tspan><tspan dy="-4.71" letter-spacing="-0.3"> = 7 nm</tspan></text>
<path d="M53.7 319 L65.3 319" stroke="#0a0a0a" stroke-width="1.3" fill="none"/>
<text x="74.5" y="323.1" font-size="11.5" text-anchor="start" fill="#000" stroke="#000">Fit</text>
<text x="204.6" y="381.8" font-size="11.5" text-anchor="start" fill="#000" stroke="#000" font-style="italic">H</text>
<path d="M217.1 371.2v11.2M221.6 371.2v11.2" stroke="#000" stroke-width="0.9"/>
<text x="225.3" y="381.8" font-size="11.2" text-anchor="start" fill="#000" stroke="#000">film</text>
<rect x="73.73" y="353.82" width="7" height="7" fill="#ec4e16" stroke="#ec4e16" stroke-width="0.4"/>
<rect x="78.62" y="351.06" width="7" height="7" fill="#ec4e16" stroke="#ec4e16" stroke-width="0.4"/>
<rect x="83.5" y="346.41" width="7" height="7" fill="#ec4e16" stroke="#ec4e16" stroke-width="0.4"/>
<rect x="88.39" y="344.76" width="7" height="7" fill="#ec4e16" stroke="#ec4e16" stroke-width="0.4"/>
<rect x="93.28" y="340.85" width="7" height="7" fill="#ec4e16" stroke="#ec4e16" stroke-width="0.4"/>
<rect x="98.17" y="338.93" width="7" height="7" fill="#ec4e16" stroke="#ec4e16" stroke-width="0.4"/>
<rect x="103.05" y="337.39" width="7" height="7" fill="#ec4e16" stroke="#ec4e16" stroke-width="0.4"/>
<rect x="107.94" y="333.6" width="7" height="7" fill="#ec4e16" stroke="#ec4e16" stroke-width="0.4"/>
<rect x="112.83" y="331.73" width="7" height="7" fill="#ec4e16" stroke="#ec4e16" stroke-width="0.4"/>
<rect x="117.72" y="327.37" width="7" height="7" fill="#ec4e16" stroke="#ec4e16" stroke-width="0.4"/>
<rect x="122.61" y="325.04" width="7" height="7" fill="#ec4e16" stroke="#ec4e16" stroke-width="0.4"/>
<rect x="127.49" y="322.1" width="7" height="7" fill="#ec4e16" stroke="#ec4e16" stroke-width="0.4"/>
<rect x="132.38" y="318.77" width="7" height="7" fill="#ec4e16" stroke="#ec4e16" stroke-width="0.4"/>
<rect x="137.27" y="315.43" width="7" height="7" fill="#ec4e16" stroke="#ec4e16" stroke-width="0.4"/>
<rect x="142.16" y="314.76" width="7" height="7" fill="#ec4e16" stroke="#ec4e16" stroke-width="0.4"/>
<rect x="147.05" y="311.6" width="7" height="7" fill="#ec4e16" stroke="#ec4e16" stroke-width="0.4"/>
<rect x="151.93" y="307.28" width="7" height="7" fill="#ec4e16" stroke="#ec4e16" stroke-width="0.4"/>
<rect x="156.82" y="303.12" width="7" height="7" fill="#ec4e16" stroke="#ec4e16" stroke-width="0.4"/>
<rect x="161.71" y="301.01" width="7" height="7" fill="#ec4e16" stroke="#ec4e16" stroke-width="0.4"/>
<rect x="166.6" y="298.86" width="7" height="7" fill="#ec4e16" stroke="#ec4e16" stroke-width="0.4"/>
<rect x="171.48" y="295.04" width="7" height="7" fill="#ec4e16" stroke="#ec4e16" stroke-width="0.4"/>
<rect x="176.37" y="295.07" width="7" height="7" fill="#ec4e16" stroke="#ec4e16" stroke-width="0.4"/>
<rect x="181.26" y="290.24" width="7" height="7" fill="#ec4e16" stroke="#ec4e16" stroke-width="0.4"/>
<rect x="186.15" y="288.55" width="7" height="7" fill="#ec4e16" stroke="#ec4e16" stroke-width="0.4"/>
<rect x="191.04" y="285.57" width="7" height="7" fill="#ec4e16" stroke="#ec4e16" stroke-width="0.4"/>
<rect x="195.92" y="282.44" width="7" height="7" fill="#ec4e16" stroke="#ec4e16" stroke-width="0.4"/>
<rect x="200.81" y="279.15" width="7" height="7" fill="#ec4e16" stroke="#ec4e16" stroke-width="0.4"/>
<rect x="205.7" y="275.44" width="7" height="7" fill="#ec4e16" stroke="#ec4e16" stroke-width="0.4"/>
<rect x="210.59" y="274.77" width="7" height="7" fill="#ec4e16" stroke="#ec4e16" stroke-width="0.4"/>
<rect x="215.48" y="271.17" width="7" height="7" fill="#ec4e16" stroke="#ec4e16" stroke-width="0.4"/>
<rect x="220.36" y="268.02" width="7" height="7" fill="#ec4e16" stroke="#ec4e16" stroke-width="0.4"/>
<path d="M233.15 256.16V265.18" stroke="#ec4e16" stroke-width="0.9"/>
<path d="M231.95 256.16h2.4" stroke="#ec4e16" stroke-width="0.9"/>
<rect x="229.85" y="257.37" width="6.6" height="6.6" fill="#ec4e16" stroke="#ec4e16" stroke-width="0.4"/>
<path d="M238.04 266.15V273.88" stroke="#ec4e16" stroke-width="0.9"/>
<path d="M236.84 266.15h2.4" stroke="#ec4e16" stroke-width="0.9"/>
<rect x="234.74" y="266.71" width="6.6" height="6.6" fill="#ec4e16" stroke="#ec4e16" stroke-width="0.4"/>
<circle cx="77.23" cy="363.38" r="4.1" fill="#2f8d6f" stroke="#2f8d6f" stroke-width="0.3"/>
<circle cx="82.12" cy="360.81" r="4.1" fill="#2f8d6f" stroke="#2f8d6f" stroke-width="0.3"/>
<circle cx="87" cy="360.26" r="4.1" fill="#2f8d6f" stroke="#2f8d6f" stroke-width="0.3"/>
<circle cx="91.89" cy="357.28" r="4.1" fill="#2f8d6f" stroke="#2f8d6f" stroke-width="0.3"/>
<circle cx="96.78" cy="353.25" r="4.1" fill="#2f8d6f" stroke="#2f8d6f" stroke-width="0.3"/>
<circle cx="101.67" cy="347.65" r="4.1" fill="#2f8d6f" stroke="#2f8d6f" stroke-width="0.3"/>
<circle cx="106.55" cy="344.83" r="4.1" fill="#2f8d6f" stroke="#2f8d6f" stroke-width="0.3"/>
<circle cx="111.44" cy="341.7" r="4.1" fill="#2f8d6f" stroke="#2f8d6f" stroke-width="0.3"/>
<circle cx="116.33" cy="337.53" r="4.1" fill="#2f8d6f" stroke="#2f8d6f" stroke-width="0.3"/>
<circle cx="121.22" cy="335.48" r="4.1" fill="#2f8d6f" stroke="#2f8d6f" stroke-width="0.3"/>
<circle cx="126.11" cy="334.07" r="4.1" fill="#2f8d6f" stroke="#2f8d6f" stroke-width="0.3"/>
<circle cx="130.99" cy="330.56" r="4.1" fill="#2f8d6f" stroke="#2f8d6f" stroke-width="0.3"/>
<circle cx="135.88" cy="329.53" r="4.1" fill="#2f8d6f" stroke="#2f8d6f" stroke-width="0.3"/>
<circle cx="140.77" cy="329.82" r="4.1" fill="#2f8d6f" stroke="#2f8d6f" stroke-width="0.3"/>
<circle cx="145.66" cy="326.76" r="4.1" fill="#2f8d6f" stroke="#2f8d6f" stroke-width="0.3"/>
<circle cx="150.55" cy="324.65" r="4.1" fill="#2f8d6f" stroke="#2f8d6f" stroke-width="0.3"/>
<circle cx="155.43" cy="320.44" r="4.1" fill="#2f8d6f" stroke="#2f8d6f" stroke-width="0.3"/>
<circle cx="160.32" cy="317.62" r="4.1" fill="#2f8d6f" stroke="#2f8d6f" stroke-width="0.3"/>
<circle cx="165.21" cy="315.61" r="4.1" fill="#2f8d6f" stroke="#2f8d6f" stroke-width="0.3"/>
<circle cx="170.1" cy="309.12" r="4.1" fill="#2f8d6f" stroke="#2f8d6f" stroke-width="0.3"/>
<circle cx="174.98" cy="308.82" r="4.1" fill="#2f8d6f" stroke="#2f8d6f" stroke-width="0.3"/>
<circle cx="179.87" cy="304.42" r="4.1" fill="#2f8d6f" stroke="#2f8d6f" stroke-width="0.3"/>
<circle cx="184.76" cy="300.42" r="4.1" fill="#2f8d6f" stroke="#2f8d6f" stroke-width="0.3"/>
<circle cx="189.65" cy="300.63" r="4.1" fill="#2f8d6f" stroke="#2f8d6f" stroke-width="0.3"/>
<circle cx="194.54" cy="297.65" r="4.1" fill="#2f8d6f" stroke="#2f8d6f" stroke-width="0.3"/>
<circle cx="199.42" cy="297.97" r="4.1" fill="#2f8d6f" stroke="#2f8d6f" stroke-width="0.3"/>
<circle cx="204.31" cy="294.11" r="4.1" fill="#2f8d6f" stroke="#2f8d6f" stroke-width="0.3"/>
<circle cx="209.2" cy="292.04" r="4.1" fill="#2f8d6f" stroke="#2f8d6f" stroke-width="0.3"/>
<circle cx="214.09" cy="290.62" r="4.1" fill="#2f8d6f" stroke="#2f8d6f" stroke-width="0.3"/>
<circle cx="218.98" cy="286.71" r="4.1" fill="#2f8d6f" stroke="#2f8d6f" stroke-width="0.3"/>
<circle cx="223.86" cy="285.61" r="4.1" fill="#2f8d6f" stroke="#2f8d6f" stroke-width="0.3"/>
<path d="M238.53 279.84V286.28 M237.33 279.84h2.4 M237.33 286.28h2.4" stroke="#2f8d6f" stroke-width="0.9"/>
<circle cx="238.53" cy="283.06" r="3.8" fill="#2f8d6f" stroke="#2f8d6f" stroke-width="0.3"/>
<path d="M243.41 259.99V283.19 M242.21 259.99h2.4 M242.21 283.19h2.4" stroke="#2f8d6f" stroke-width="0.9"/>
<circle cx="243.41" cy="271.59" r="3.8" fill="#2f8d6f" stroke="#2f8d6f" stroke-width="0.3"/>
<path d="M77.23 362.11L80.86 368.38L73.6 368.38Z" fill="#4460aa" stroke="#4460aa" stroke-width="0.3"/>
<path d="M82.12 360.02L85.75 366.29L78.49 366.29Z" fill="#4460aa" stroke="#4460aa" stroke-width="0.3"/>
<path d="M87 357.71L90.63 363.98L83.37 363.98Z" fill="#4460aa" stroke="#4460aa" stroke-width="0.3"/>
<path d="M91.89 355.68L95.52 361.95L88.26 361.95Z" fill="#4460aa" stroke="#4460aa" stroke-width="0.3"/>
<path d="M96.78 352.34L100.41 358.61L93.15 358.61Z" fill="#4460aa" stroke="#4460aa" stroke-width="0.3"/>
<path d="M101.67 349.72L105.3 355.99L98.04 355.99Z" fill="#4460aa" stroke="#4460aa" stroke-width="0.3"/>
<path d="M106.55 348.58L110.18 354.85L102.92 354.85Z" fill="#4460aa" stroke="#4460aa" stroke-width="0.3"/>
<path d="M111.44 345.74L115.07 352.01L107.81 352.01Z" fill="#4460aa" stroke="#4460aa" stroke-width="0.3"/>
<path d="M116.33 344.95L119.96 351.22L112.7 351.22Z" fill="#4460aa" stroke="#4460aa" stroke-width="0.3"/>
<path d="M121.22 340.95L124.85 347.22L117.59 347.22Z" fill="#4460aa" stroke="#4460aa" stroke-width="0.3"/>
<path d="M126.11 338.74L129.74 345.01L122.48 345.01Z" fill="#4460aa" stroke="#4460aa" stroke-width="0.3"/>
<path d="M130.99 335.49L134.62 341.76L127.36 341.76Z" fill="#4460aa" stroke="#4460aa" stroke-width="0.3"/>
<path d="M135.88 333.59L139.51 339.86L132.25 339.86Z" fill="#4460aa" stroke="#4460aa" stroke-width="0.3"/>
<path d="M140.77 332.62L144.4 338.89L137.14 338.89Z" fill="#4460aa" stroke="#4460aa" stroke-width="0.3"/>
<path d="M145.66 330.01L149.29 336.28L142.03 336.28Z" fill="#4460aa" stroke="#4460aa" stroke-width="0.3"/>
<path d="M150.55 326.93L154.18 333.2L146.92 333.2Z" fill="#4460aa" stroke="#4460aa" stroke-width="0.3"/>
<path d="M155.43 326.25L159.06 332.52L151.8 332.52Z" fill="#4460aa" stroke="#4460aa" stroke-width="0.3"/>
<path d="M160.32 322.77L163.95 329.04L156.69 329.04Z" fill="#4460aa" stroke="#4460aa" stroke-width="0.3"/>
<path d="M165.21 321.17L168.84 327.44L161.58 327.44Z" fill="#4460aa" stroke="#4460aa" stroke-width="0.3"/>
<path d="M170.1 318.96L173.73 325.23L166.47 325.23Z" fill="#4460aa" stroke="#4460aa" stroke-width="0.3"/>
<path d="M174.98 316.76L178.61 323.03L171.35 323.03Z" fill="#4460aa" stroke="#4460aa" stroke-width="0.3"/>
<path d="M179.87 312.58L183.5 318.85L176.24 318.85Z" fill="#4460aa" stroke="#4460aa" stroke-width="0.3"/>
<path d="M184.76 311.88L188.39 318.15L181.13 318.15Z" fill="#4460aa" stroke="#4460aa" stroke-width="0.3"/>
<path d="M189.65 309.22L193.28 315.49L186.02 315.49Z" fill="#4460aa" stroke="#4460aa" stroke-width="0.3"/>
<path d="M194.54 306.5L198.17 312.77L190.91 312.77Z" fill="#4460aa" stroke="#4460aa" stroke-width="0.3"/>
<path d="M199.42 302.91L203.05 309.18L195.79 309.18Z" fill="#4460aa" stroke="#4460aa" stroke-width="0.3"/>
<path d="M204.31 302.6L207.94 308.87L200.68 308.87Z" fill="#4460aa" stroke="#4460aa" stroke-width="0.3"/>
<path d="M209.2 299.3L212.83 305.57L205.57 305.57Z" fill="#4460aa" stroke="#4460aa" stroke-width="0.3"/>
<path d="M214.09 296.7L217.72 302.97L210.46 302.97Z" fill="#4460aa" stroke="#4460aa" stroke-width="0.3"/>
<path d="M218.98 293.49L222.61 299.76L215.35 299.76Z" fill="#4460aa" stroke="#4460aa" stroke-width="0.3"/>
<path d="M223.86 291.3L227.49 297.57L220.23 297.57Z" fill="#4460aa" stroke="#4460aa" stroke-width="0.3"/>
<path d="M228.75 288.84L232.38 295.11L225.12 295.11Z" fill="#4460aa" stroke="#4460aa" stroke-width="0.3"/>
<path d="M233.64 288L237.27 294.27L230.01 294.27Z" fill="#4460aa" stroke="#4460aa" stroke-width="0.3"/>
<path d="M238.53 285.29L242.16 291.56L234.9 291.56Z" fill="#4460aa" stroke="#4460aa" stroke-width="0.3"/>
<path d="M242.44 283.56L246.07 289.83L238.81 289.83Z" fill="#4460aa" stroke="#4460aa" stroke-width="0.3"/>
<path d="M77.23 365.06L81.19 369.02L77.23 372.98L73.27 369.02Z" fill="#d1339d" stroke="#d1339d" stroke-width="0.3"/>
<path d="M82.12 362.61L86.08 366.57L82.12 370.53L78.16 366.57Z" fill="#d1339d" stroke="#d1339d" stroke-width="0.3"/>
<path d="M87 361.86L90.96 365.82L87 369.78L83.04 365.82Z" fill="#d1339d" stroke="#d1339d" stroke-width="0.3"/>
<path d="M91.89 359.51L95.85 363.47L91.89 367.43L87.93 363.47Z" fill="#d1339d" stroke="#d1339d" stroke-width="0.3"/>
<path d="M96.78 357.1L100.74 361.06L96.78 365.02L92.82 361.06Z" fill="#d1339d" stroke="#d1339d" stroke-width="0.3"/>
<path d="M101.67 354.79L105.63 358.75L101.67 362.71L97.71 358.75Z" fill="#d1339d" stroke="#d1339d" stroke-width="0.3"/>
<path d="M106.55 352L110.51 355.96L106.55 359.92L102.59 355.96Z" fill="#d1339d" stroke="#d1339d" stroke-width="0.3"/>
<path d="M111.44 349.49L115.4 353.45L111.44 357.41L107.48 353.45Z" fill="#d1339d" stroke="#d1339d" stroke-width="0.3"/>
<path d="M116.33 347.82L120.29 351.78L116.33 355.74L112.37 351.78Z" fill="#d1339d" stroke="#d1339d" stroke-width="0.3"/>
<path d="M121.22 346.01L125.18 349.97L121.22 353.93L117.26 349.97Z" fill="#d1339d" stroke="#d1339d" stroke-width="0.3"/>
<path d="M126.11 342.91L130.07 346.87L126.11 350.83L122.15 346.87Z" fill="#d1339d" stroke="#d1339d" stroke-width="0.3"/>
<path d="M130.99 340.7L134.95 344.66L130.99 348.62L127.03 344.66Z" fill="#d1339d" stroke="#d1339d" stroke-width="0.3"/>
<path d="M135.88 338.01L139.84 341.97L135.88 345.93L131.92 341.97Z" fill="#d1339d" stroke="#d1339d" stroke-width="0.3"/>
<path d="M140.77 334.96L144.73 338.92L140.77 342.88L136.81 338.92Z" fill="#d1339d" stroke="#d1339d" stroke-width="0.3"/>
<path d="M145.66 333.16L149.62 337.12L145.66 341.08L141.7 337.12Z" fill="#d1339d" stroke="#d1339d" stroke-width="0.3"/>
<path d="M150.55 331.19L154.51 335.15L150.55 339.11L146.59 335.15Z" fill="#d1339d" stroke="#d1339d" stroke-width="0.3"/>
<path d="M155.43 328.69L159.39 332.65L155.43 336.61L151.47 332.65Z" fill="#d1339d" stroke="#d1339d" stroke-width="0.3"/>
<path d="M160.32 326.27L164.28 330.23L160.32 334.19L156.36 330.23Z" fill="#d1339d" stroke="#d1339d" stroke-width="0.3"/>
<path d="M165.21 325.17L169.17 329.13L165.21 333.09L161.25 329.13Z" fill="#d1339d" stroke="#d1339d" stroke-width="0.3"/>
<path d="M170.1 321.23L174.06 325.19L170.1 329.15L166.14 325.19Z" fill="#d1339d" stroke="#d1339d" stroke-width="0.3"/>
<path d="M174.98 319.16L178.94 323.12L174.98 327.08L171.02 323.12Z" fill="#d1339d" stroke="#d1339d" stroke-width="0.3"/>
<path d="M179.87 316.67L183.83 320.63L179.87 324.59L175.91 320.63Z" fill="#d1339d" stroke="#d1339d" stroke-width="0.3"/>
<path d="M184.76 314.51L188.72 318.47L184.76 322.43L180.8 318.47Z" fill="#d1339d" stroke="#d1339d" stroke-width="0.3"/>
<path d="M189.65 312.99L193.61 316.95L189.65 320.91L185.69 316.95Z" fill="#d1339d" stroke="#d1339d" stroke-width="0.3"/>
<path d="M194.54 310.68L198.5 314.64L194.54 318.6L190.58 314.64Z" fill="#d1339d" stroke="#d1339d" stroke-width="0.3"/>
<path d="M199.42 308.94L203.38 312.9L199.42 316.86L195.46 312.9Z" fill="#d1339d" stroke="#d1339d" stroke-width="0.3"/>
<path d="M204.31 305.61L208.27 309.57L204.31 313.53L200.35 309.57Z" fill="#d1339d" stroke="#d1339d" stroke-width="0.3"/>
<path d="M209.2 304.41L213.16 308.37L209.2 312.33L205.24 308.37Z" fill="#d1339d" stroke="#d1339d" stroke-width="0.3"/>
<path d="M214.09 302.1L218.05 306.06L214.09 310.02L210.13 306.06Z" fill="#d1339d" stroke="#d1339d" stroke-width="0.3"/>
<path d="M218.98 299.52L222.94 303.48L218.98 307.44L215.02 303.48Z" fill="#d1339d" stroke="#d1339d" stroke-width="0.3"/>
<path d="M223.86 297.3L227.82 301.26L223.86 305.22L219.9 301.26Z" fill="#d1339d" stroke="#d1339d" stroke-width="0.3"/>
<path d="M228.75 294.65L232.71 298.61L228.75 302.57L224.79 298.61Z" fill="#d1339d" stroke="#d1339d" stroke-width="0.3"/>
<path d="M233.64 292.91L237.6 296.87L233.64 300.83L229.68 296.87Z" fill="#d1339d" stroke="#d1339d" stroke-width="0.3"/>
<path d="M238.53 290.7L242.49 294.66L238.53 298.62L234.57 294.66Z" fill="#d1339d" stroke="#d1339d" stroke-width="0.3"/>
<path d="M243.41 288.1L247.37 292.06L243.41 296.02L239.45 292.06Z" fill="#d1339d" stroke="#d1339d" stroke-width="0.3"/>
<path d="M47.9 373.41 L238.53 263.09" stroke="#0a0a0a" stroke-width="1.3" fill="none"/>
<path d="M47.9 378.76 L238.53 277.26" stroke="#0a0a0a" stroke-width="1.3" fill="none"/>
<path d="M47.9 380.82 L238.53 289.18" stroke="#0a0a0a" stroke-width="1.3" fill="none"/>
<path d="M47.9 382.3 L238.53 292.41" stroke="#0a0a0a" stroke-width="1.3" fill="none"/>
<path d="M335.2 388.9v-3.4M392.6 388.9v-3.4M450 388.9v-3.4M507.4 388.9v-3.4M363.9 388.9v-1.6M421.3 388.9v-1.6M478.7 388.9v-1.6M306.5 348.38h3.4M306.5 307.85h3.4M306.5 267.32h3.4M306.5 368.64h1.6M306.5 328.11h1.6M306.5 287.59h1.6M306.5 247.06h1.6" stroke="#0a0a0a" stroke-width="1.1" fill="none"/>
<rect x="306.5" y="226.8" width="200.9" height="162.1" fill="none" stroke="#0a0a0a" stroke-width="1.4"/>
<text x="335.2" y="402" font-size="12" text-anchor="middle" fill="#000" stroke="#000">2</text>
<text x="392.6" y="402" font-size="12" text-anchor="middle" fill="#000" stroke="#000">4</text>
<text x="450" y="402" font-size="12" text-anchor="middle" fill="#000" stroke="#000">6</text>
<text x="507.4" y="402" font-size="12" text-anchor="middle" fill="#000" stroke="#000">8</text>
<text x="302.3" y="393.1" font-size="12" text-anchor="end" fill="#000" stroke="#000">0</text>
<text x="302.3" y="352.57" font-size="12" text-anchor="end" fill="#000" stroke="#000">20</text>
<text x="302.3" y="312.05" font-size="12" text-anchor="end" fill="#000" stroke="#000">40</text>
<text x="302.3" y="271.52" font-size="12" text-anchor="end" fill="#000" stroke="#000">60</text>
<text x="302.3" y="231" font-size="12" text-anchor="end" fill="#000" stroke="#000">80</text>
<text x="263.9" y="239.7" font-size="16.4" text-anchor="start" fill="#000" stroke="#000">(e)</text>
<text x="377.2" y="419.5" font-size="12" text-anchor="start" fill="#000" stroke="#000" font-style="italic">t</text>
<text x="380.6" y="423" font-size="8.8" text-anchor="start" fill="#000" stroke="#000"><tspan stroke-width="0.18">Fe</tspan><tspan dy="2.64" font-size="6.34" stroke-width="0.08">3</tspan><tspan dy="-2.64" stroke-width="0.18">Sn</tspan><tspan dy="2.64" font-size="6.34" stroke-width="0.08">2</tspan></text>
<text x="412.2" y="419.5" font-size="13" text-anchor="start" fill="#000" stroke="#000">(nm)</text>
<text x="283" y="308" font-size="12.2" text-anchor="middle" fill="#000" stroke="#000" transform="rotate(-90 283 308)"><tspan>Δ</tspan><tspan font-style="italic">H</tspan><tspan dy="3.29" font-size="8.91" stroke-width="0.18">0</tspan><tspan dy="-3.29"> (Oe)</tspan></text>
<path d="M335.2 301.77 L336.63 304.01 L338.07 306.27 L339.5 308.52 L340.94 310.77 L342.38 313 L343.81 315.19 L345.25 317.35 L346.68 319.45 L348.12 321.49 L349.55 323.46 L350.99 325.34 L352.42 327.13 L353.86 328.82 L355.29 330.39 L356.73 331.84 L358.16 333.15 L359.59 334.32 L361.03 335.32 L362.46 336.16 L363.9 336.83 L365.33 337.39 L366.77 337.93 L368.2 338.47 L369.64 338.98 L371.07 339.49 L372.51 339.97 L373.94 340.45 L375.38 340.91 L376.81 341.35 L378.25 341.78 L379.69 342.2 L381.12 342.61 L382.56 343 L383.99 343.38 L385.42 343.74 L386.86 344.1 L388.29 344.44 L389.73 344.76 L391.16 345.08 L392.6 345.38 L394.03 345.67 L395.47 345.95 L396.9 346.22 L398.34 346.48 L399.77 346.72 L401.21 346.96 L402.64 347.18 L404.08 347.4 L405.51 347.6 L406.95 347.79 L408.38 347.97 L409.82 348.15 L411.25 348.31 L412.69 348.46 L414.12 348.6 L415.56 348.74 L417 348.86 L418.43 348.98 L419.87 349.09 L421.3 349.19 L422.73 349.28 L424.17 349.37 L425.61 349.46 L427.04 349.55 L428.47 349.64 L429.91 349.73 L431.34 349.82 L432.78 349.9 L434.22 349.98 L435.65 350.06 L437.08 350.14 L438.52 350.22 L439.96 350.3 L441.39 350.37 L442.82 350.44 L444.26 350.51 L445.69 350.58 L447.13 350.65 L448.56 350.71 L450 350.77 L451.43 350.83 L452.87 350.89 L454.31 350.94 L455.74 350.99 L457.17 351.04 L458.61 351.09 L460.04 351.13 L461.48 351.17 L462.91 351.21 L464.35 351.24 L465.78 351.27 L467.22 351.3 L468.65 351.33 L470.09 351.35 L471.52 351.37 L472.96 351.39 L474.39 351.4 L475.83 351.41 L477.26 351.41 L478.7 351.41" stroke="#c09012" stroke-width="1.5" fill="none"/>
<rect x="331.3" y="297.87" width="7.8" height="7.8" fill="#c09012" stroke="#c09012" stroke-width="0.3"/>
<rect x="360" y="332.93" width="7.8" height="7.8" fill="#c09012" stroke="#c09012" stroke-width="0.3"/>
<rect x="417.4" y="345.29" width="7.8" height="7.8" fill="#c09012" stroke="#c09012" stroke-width="0.3"/>
<rect x="474.8" y="347.51" width="7.8" height="7.8" fill="#c09012" stroke="#c09012" stroke-width="0.3"/>
<path d="M363.9 331.15V341.89" stroke="#c09012" stroke-width="1.2"/>
<path d="M309 235.3 L316.6 235.3" stroke="#c09012" stroke-width="1.5" fill="none"/>
<path d="M329.1 235.3 L336.9 235.3" stroke="#c09012" stroke-width="1.5" fill="none"/>
<rect x="319.1" y="231.4" width="8.2" height="8.2" fill="#c09012" stroke="#c09012" stroke-width="0.3"/>
<text x="340.4" y="240" font-size="12.15" text-anchor="start" fill="#000" stroke="#000"><tspan>Ta/Pt/Fe</tspan><tspan dy="3.28" font-size="8.87" stroke-width="0.18">3</tspan><tspan dy="-3.28">Sn</tspan><tspan dy="3.28" font-size="8.87" stroke-width="0.18">2</tspan><tspan dy="-3.28">(</tspan><tspan font-style="italic">t</tspan><tspan>)/AlO</tspan><tspan dy="3.28" font-size="8.87" stroke-width="0.18">x</tspan></text>
<path d="M637 388v-3.4M704 388v-3.4M603.5 388v-1.6M670.5 388v-1.6M737.5 388v-1.6M570 334.33h3.4M570 280.67h3.4M570 361.17h1.6M570 307.5h1.6M570 253.83h1.6" stroke="#0a0a0a" stroke-width="1.1" fill="none"/>
<rect x="570" y="227" width="201" height="161" fill="none" stroke="#0a0a0a" stroke-width="1.4"/>
<text x="570" y="403" font-size="12" text-anchor="middle" fill="#000" stroke="#000">0</text>
<text x="637" y="403" font-size="12" text-anchor="middle" fill="#000" stroke="#000">0.2</text>
<text x="704" y="403" font-size="12" text-anchor="middle" fill="#000" stroke="#000">0.4</text>
<text x="771" y="403" font-size="12" text-anchor="middle" fill="#000" stroke="#000">0.6</text>
<text x="564.4" y="392.2" font-size="12" text-anchor="end" fill="#000" stroke="#000">0.02</text>
<text x="564.4" y="338.53" font-size="12" text-anchor="end" fill="#000" stroke="#000">0.04</text>
<text x="564.4" y="284.87" font-size="12" text-anchor="end" fill="#000" stroke="#000">0.06</text>
<text x="564.4" y="231.2" font-size="12" text-anchor="end" fill="#000" stroke="#000">0.08</text>
<text x="525.6" y="240.2" font-size="16.4" text-anchor="start" fill="#000" stroke="#000">(f)</text>
<text x="532.8" y="307" font-size="13.2" text-anchor="middle" fill="#000" stroke="#000" transform="rotate(-90 532.8 307)"><tspan font-style="italic">α</tspan><tspan dy="3.3" font-size="9.5">eff</tspan></text>
<path d="M570 339.5 L737.5 300.6" stroke="#0a0a0a" stroke-width="1.3" fill="none"/>
<circle cx="617.86" cy="328.4" r="4.6" fill="#c09012" stroke="#c09012" stroke-width="0.3"/>
<circle cx="637" cy="324.3" r="4.6" fill="#c09012" stroke="#c09012" stroke-width="0.3"/>
<circle cx="681.67" cy="311.6" r="4.6" fill="#c09012" stroke="#c09012" stroke-width="0.3"/>
<circle cx="737.5" cy="300.7" r="4.6" fill="#c09012" stroke="#c09012" stroke-width="0.3"/>
<circle cx="588.6" cy="237.9" r="4.7" fill="#c09012" stroke="#c09012" stroke-width="0.3"/>
<text x="605.6" y="242.5" font-size="12.15" text-anchor="start" fill="#000" stroke="#000"><tspan>Ta/Pt/Fe</tspan><tspan dy="3.28" font-size="8.87" stroke-width="0.18">3</tspan><tspan dy="-3.28">Sn</tspan><tspan dy="3.28" font-size="8.87" stroke-width="0.18">2</tspan><tspan dy="-3.28">(</tspan><tspan font-style="italic">t</tspan><tspan>)/AlO</tspan><tspan dy="3.28" font-size="8.87" stroke-width="0.18">x</tspan></text>
<path d="M575 255.8 L602.3 255.8" stroke="#0a0a0a" stroke-width="1.3" fill="none"/>
<text x="606.3" y="259.9" font-size="11.5" text-anchor="start" fill="#000" stroke="#000">Fit</text>
<text x="634" y="201.4" font-size="12" text-anchor="start" fill="#000" stroke="#000" font-style="italic">t</text>
<text x="641.4" y="195.8" font-size="8.6" text-anchor="start" fill="#000" stroke="#000">-1</text>
<text x="641.4" y="205.3" font-size="9.2" text-anchor="start" fill="#000" stroke="#000"><tspan stroke-width="0.19">Fe</tspan><tspan dy="2.76" font-size="6.62" stroke-width="0.08">3</tspan><tspan dy="-2.76" stroke-width="0.19">Sn</tspan><tspan dy="2.76" font-size="6.62" stroke-width="0.08">2</tspan></text>
<text x="673.9" y="201.4" font-size="13" text-anchor="start" fill="#000" stroke="#000"><tspan>(nm</tspan><tspan dy="-4.68" font-size="9.36" stroke-width="0.2">-1</tspan><tspan dy="4.68">)</tspan></text>
<text x="634" y="419.7" font-size="12" text-anchor="start" fill="#000" stroke="#000" font-style="italic">t</text>
<text x="641.4" y="414.1" font-size="8.6" text-anchor="start" fill="#000" stroke="#000">-1</text>
<text x="641.4" y="423.6" font-size="9.2" text-anchor="start" fill="#000" stroke="#000"><tspan stroke-width="0.19">Fe</tspan><tspan dy="2.76" font-size="6.62" stroke-width="0.08">3</tspan><tspan dy="-2.76" stroke-width="0.19">Sn</tspan><tspan dy="2.76" font-size="6.62" stroke-width="0.08">2</tspan></text>
<text x="673.9" y="419.7" font-size="13" text-anchor="start" fill="#000" stroke="#000"><tspan>(nm</tspan><tspan dy="-4.68" font-size="9.36" stroke-width="0.2">-1</tspan><tspan dy="4.68">)</tspan></text>
</svg>
</body></html>
